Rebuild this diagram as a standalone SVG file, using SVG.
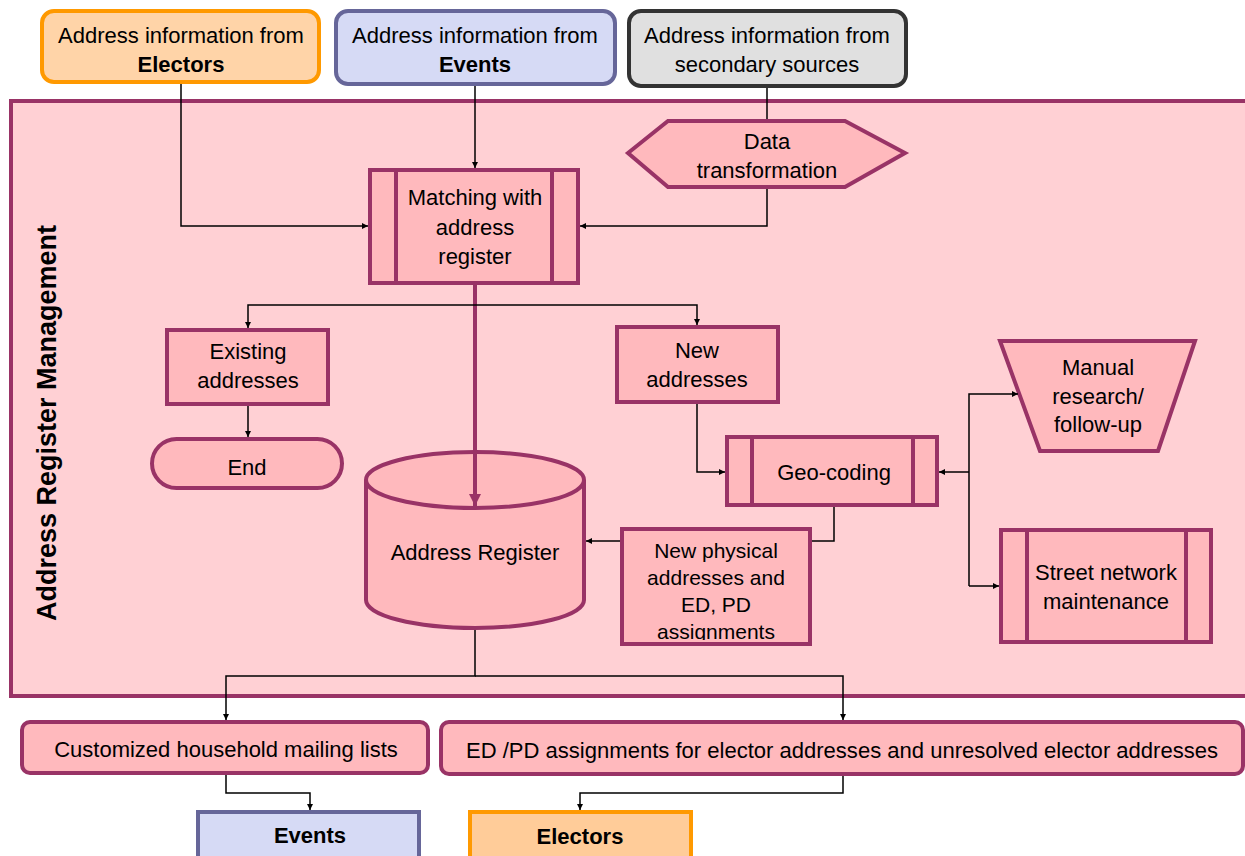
<svg xmlns="http://www.w3.org/2000/svg" width="1245" height="856" viewBox="0 0 1245 856">
  <style>
    text { font-family: "Liberation Sans", Arial, sans-serif; font-size: 22px; fill: #000; text-anchor: middle; }
    .b { font-weight: bold; }
    .node { fill: #ffb9bd; stroke: #993366; stroke-width: 4; }
    .ln { fill: none; stroke: #000; stroke-width: 1.5; }
    .thick { fill: none; stroke: #993366; stroke-width: 4; }
  </style>
  <defs>
    <marker id="ah" viewBox="0 0 10 10" refX="10" refY="5" markerWidth="6" markerHeight="6" markerUnits="userSpaceOnUse" orient="auto">
      <path d="M0,0 L10,5 L0,10 z" fill="#000"/>
    </marker>
    <marker id="ahm" viewBox="0 0 10 10" refX="10" refY="5" markerWidth="14" markerHeight="12" markerUnits="userSpaceOnUse" orient="auto">
      <path d="M0,0 L10,5 L0,10 z" fill="#993366"/>
    </marker>
    <clipPath id="npClip"><rect x="624" y="531" width="184" height="109"/></clipPath>
  </defs>

  <!-- swimlane -->
  <g id="lane">
    <rect x="11" y="101" width="1240" height="595" fill="#ffd0d4" stroke="#993366" stroke-width="4"/>
    <text class="b" transform="translate(56,423) rotate(-90)" style="font-size:27px">Address Register Management</text>
  </g>

  <!-- sources -->
  <g id="src-electors">
    <rect x="42" y="11" width="277" height="71" rx="12" fill="#ffd4a8" stroke="#ff9900" stroke-width="4"/>
    <text x="181" y="43">Address information from</text>
    <text class="b" x="181" y="72">Electors</text>
  </g>
  <g id="src-events">
    <rect x="336" y="11" width="279" height="73" rx="12" fill="#d6daf5" stroke="#666699" stroke-width="4"/>
    <text x="475" y="43">Address information from</text>
    <text class="b" x="475" y="72">Events</text>
  </g>
  <g id="src-secondary">
    <rect x="629" y="11" width="277" height="75" rx="12" fill="#e0e0e0" stroke="#333333" stroke-width="4"/>
    <text x="767" y="43">Address information from</text>
    <text x="767" y="72">secondary sources</text>
  </g>

  <g id="data-transformation">
    <polygon class="node" points="628,153 668,121 845,121 905,153 845,187 668,187"/>
    <text x="767" y="149">Data</text>
    <text x="767" y="178">transformation</text>
  </g>

  <g id="matching">
    <rect class="node" x="370" y="170" width="208" height="113"/>
    <line class="thick" x1="396" y1="170" x2="396" y2="283"/>
    <line class="thick" x1="552" y1="170" x2="552" y2="283"/>
    <text x="475" y="205">Matching with</text>
    <text x="475" y="235">address</text>
    <text x="475" y="264">register</text>
  </g>

  <g id="existing">
    <rect class="node" x="167" y="330" width="161" height="74"/>
    <text x="248" y="359">Existing</text>
    <text x="248" y="388">addresses</text>
  </g>

  <g id="end">
    <rect class="node" x="152" y="439" width="190" height="49" rx="24.5"/>
    <text x="247" y="475">End</text>
  </g>

  <g id="new-addresses">
    <rect class="node" x="617" y="327" width="161" height="75"/>
    <text x="697" y="358">New</text>
    <text x="697" y="387">addresses</text>
  </g>

  <g id="address-register">
    <path class="node" d="M366,480 L366,600 A109,28 0 0 0 584,600 L584,480 A109,28 0 0 0 366,480 Z"/>
    <path class="thick" d="M366,480 A109,28 0 0 0 584,480"/>
    <text x="475" y="560">Address Register</text>
  </g>

  <g id="geo-coding">
    <rect class="node" x="727" y="437" width="210" height="68"/>
    <line class="thick" x1="752" y1="437" x2="752" y2="505"/>
    <line class="thick" x1="913" y1="437" x2="913" y2="505"/>
    <text x="834" y="480">Geo-coding</text>
  </g>

  <g id="manual-research">
    <polygon class="node" points="1000,341 1195,341 1158,451 1040,451"/>
    <text x="1098" y="375">Manual</text>
    <text x="1098" y="404">research/</text>
    <text x="1098" y="432">follow-up</text>
  </g>

  <g id="street-network">
    <rect class="node" x="1001" y="530" width="210" height="112"/>
    <line class="thick" x1="1027" y1="530" x2="1027" y2="642"/>
    <line class="thick" x1="1186" y1="530" x2="1186" y2="642"/>
    <text x="1106" y="580">Street network</text>
    <text x="1106" y="609">maintenance</text>
  </g>

  <g id="new-physical">
    <rect class="node" x="622" y="529" width="188" height="115"/>
    <g clip-path="url(#npClip)">
      <text x="716" y="558" style="font-size:21px">New physical</text>
      <text x="716" y="585" style="font-size:21px">addresses and</text>
      <text x="716" y="612" style="font-size:21px">ED, PD</text>
      <text x="716" y="639" style="font-size:21px">assignments</text>
    </g>
  </g>

  <!-- outputs -->
  <g id="mailing-lists">
    <rect class="node" x="22" y="722" width="406" height="51" rx="8"/>
    <text x="226" y="757">Customized household mailing lists</text>
  </g>
  <g id="ed-pd">
    <rect class="node" x="441" y="722" width="802" height="52" rx="8"/>
    <text x="842" y="758" textLength="752" lengthAdjust="spacingAndGlyphs">ED /PD assignments for elector addresses and unresolved elector addresses</text>
  </g>
  <g id="out-events">
    <rect x="198" y="812" width="221" height="46" fill="#d6daf5" stroke="#666699" stroke-width="4"/>
    <text class="b" x="310" y="843">Events</text>
  </g>
  <g id="out-electors">
    <rect x="470" y="812" width="221" height="46" fill="#ffcc99" stroke="#ff9900" stroke-width="4"/>
    <text class="b" x="580" y="844">Electors</text>
  </g>

  <!-- connectors, drawn last so the register feed crosses the cylinder lid -->
  <g id="connectors">
    <polyline class="ln" points="181,84 181,226 368,226" marker-end="url(#ah)"/>
    <polyline class="ln" points="475,86 475,168" marker-end="url(#ah)"/>
    <polyline class="ln" points="767,88 767,119"/>
    <polyline class="ln" points="767,189 767,226 580,226" marker-end="url(#ah)"/>
    <polyline class="thick" points="475,285 475,506" marker-end="url(#ahm)"/>
    <polyline class="ln" points="475,305 248,305 248,328" marker-end="url(#ah)"/>
    <polyline class="ln" points="475,305 697,305 697,325" marker-end="url(#ah)"/>
    <polyline class="ln" points="248,406 248,437" marker-end="url(#ah)"/>
    <polyline class="ln" points="697,404 697,472 725,472" marker-end="url(#ah)"/>
    <polyline class="ln" points="969,472 939,472" marker-end="url(#ah)"/>
    <polyline class="ln" points="969,586 969,394 1018,394" marker-end="url(#ah)"/>
    <polyline class="ln" points="969,586 999,586" marker-end="url(#ah)"/>
    <polyline class="ln" points="834,507 834,541 812,541"/>
    <polyline class="ln" points="620,541 586,541" marker-end="url(#ah)"/>
    <polyline class="ln" points="475,630 475,676 226,676 226,720" marker-end="url(#ah)"/>
    <polyline class="ln" points="475,676 843,676 843,720" marker-end="url(#ah)"/>
    <polyline class="ln" points="226,775 226,793 310,793 310,810" marker-end="url(#ah)"/>
    <polyline class="ln" points="843,776 843,793 580,793 580,810" marker-end="url(#ah)"/>
  </g>
</svg>
